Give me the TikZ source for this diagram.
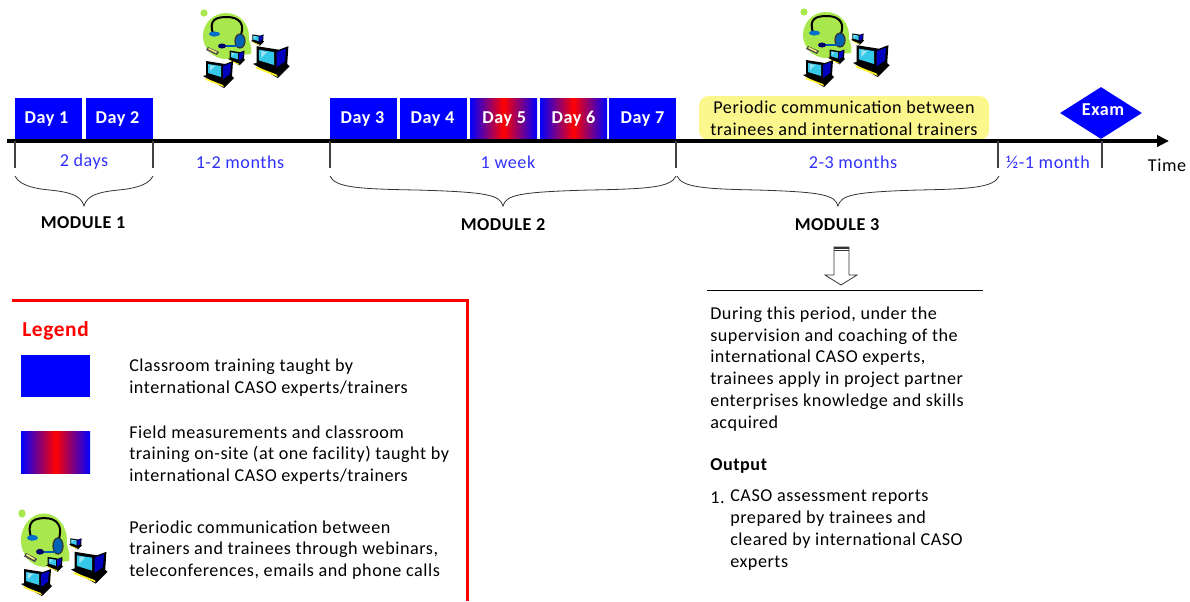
\documentclass[tikz,border=0pt]{standalone}
\usepackage{fontspec}
\setmainfont[LetterSpace=3]{Carlito}
\usetikzlibrary{arrows.meta,shapes.geometric,positioning}
\definecolor{dayBlue}{HTML}{0000FF}
\definecolor{spanBlue}{HTML}{3030FF}
\definecolor{commYellow}{HTML}{FBF78C}
\definecolor{blobGreen}{HTML}{A9E84C}
\definecolor{screenCyan}{HTML}{35C8E8}
\newcommand{\txtfont}{\fontsize{13.6}{16.35}\selectfont}
\tikzset{
	day/.style={fill=dayBlue,text=white,minimum width=67*0.75pt,minimum height=42*0.75pt,inner sep=0,outer sep=0,font=\bfseries\fontsize{13.6}{15}\selectfont},
	dayfield/.style={day,left color=dayBlue,right color=dayBlue,middle color=red},
	span/.style={text=spanBlue,font=\txtfont,inner sep=0},
	tick/.style={draw=black!75,line width=0.9pt},
	modlabel/.style={font=\bfseries\txtfont,inner sep=0},
	plain/.style={font=\txtfont,align=left,anchor=west,inner sep=0},
	terminal/.pic={
		\fill[black] (0,16)--(21,28)--(31,18)--(22,10)--cycle;
		\fill[yellow!85!white] (2,18)--(20,25)--(21,27)--(3,20)--cycle;
		\fill[black] (3,1)--(22,4)--(30,1)--(29,16)--(20,23)--(3,16)--cycle;
		\fill[blue!75!black] (20,6)--(28,3)--(27,14)--(20,19)--cycle;
		\fill[screenCyan] (5,4)--(18,6)--(18,17)--(5,13)--cycle;
		\fill[white,opacity=0.5] (7,5)--(12,6)--(7,11)--cycle;
	},
	helpdesk/.pic={
		\fill[blobGreen] (3,3) circle (3.6);
		\fill[blobGreen] (25,26) circle (23);
		\fill[blobGreen] (30,45) .. controls (38,44) and (44,45) .. (50,44) .. controls (52,38) and (48,30) .. (44,20) -- cycle;
		\draw[black,line width=1.5pt] (13,26) .. controls (6,9) and (16,7) .. (26,7) .. controls (38,7) and (45,14) .. (39,27);
		\fill[blue!45!cyan!80!black] (13.5,24) ellipse (5.5 and 2.5);
		\fill[blue!45!cyan!70!black] (39,31) ellipse (5 and 7);
		\draw[black!80,line width=0.9pt] (39,31) ellipse (5 and 7);
		\draw[blue!50!cyan!70!black,line width=1.4pt,line cap=round] (22,36) -- (36,36);
		\fill[blue!40!black] (21,36) ellipse (4 and 2.5);
		\pic[scale=0.42] at (50,24) {terminal};
		\pic[scale=0.55] at (27,40) {terminal};
		\fill[black!70] (7,37)--(18,42)--(16,45)--(5,40)--cycle;
		\fill[yellow!50!white] (8,38)--(16,42)--(15,43)--(7,39)--cycle;
		\pic at (2,50) {terminal};
		\pic[scale=1.18] at (52,35) {terminal};
	}
}
\begin{document}
\begin{tikzpicture}[x=0.75pt,y=-0.75pt]
	\useasboundingbox (0,0) rectangle (1190,601);
	% days above the line
	\foreach \id/\x/\dx/\lab/\sty in {1/48.5/-3/Day 1/day,2/119.5/-3/Day 2/day,3/363.5/-1.5/Day 3/day,4/433.5/-1.5/Day 4/day,5/503.5/1/Day 5/dayfield,6/573.5/0/Day 6/dayfield,7/642.5/0/Day 7/day}
		\node[\sty] (day\id) at (\x,119) {\kern\dx pt\raisebox{1.5pt}{\lab}};
	\node[fill=commYellow,rounded corners=2.5mm,minimum width=290*0.75pt,minimum height=44*0.75pt,inner sep=0,align=center,font=\txtfont] (comm) at (844,118) {Periodic communication between\\trainees and international trainers};
	\node[diamond,fill=dayBlue,minimum width=82*0.75pt,minimum height=52*0.75pt,inner sep=0,aspect=1.6] (exam) at (1101,113) {};
	\node[text=white,inner sep=0,font=\bfseries\fontsize{13.6}{15}\selectfont] (examlab) at (1103,110) {Exam};
	% time line
	\coordinate (tl0) at (7,141);
	\coordinate (tl1) at (1169,141);
	\draw[line width=2.4pt,-{Triangle[length=9pt,width=8.5pt]}] (tl0) -- (tl1);
	\foreach \id/\x in {a/15,b/153,c/330,d/676,e/998,f/1102}{
		\coordinate (tk\id) at (\x,141);
		\coordinate (te\id) at (\x,168);
		\draw[tick] (tk\id) -- (te\id);
	}
	\node[span] (sp1) at (84,162) {2 days};
	\node[span] (sp2) at (240,162) {1-2 months};
	\node[span] (sp3) at (508,162) {1 week};
	\node[span] (sp4) at (853,162) {2-3 months};
	\node[span] (sp5) at (1048,162) {½-1 month};
	\node[font=\txtfont,inner sep=0] (time) at (1167,165) {Time};
	% module braces
	\foreach \l/\r/\m/\lx/\id/\ly in {15/153/84/83/1/223,330/676/503/503/2/225,677/999/838/837/3/225}{
		\coordinate (bl\id) at (\l,176);
		\coordinate (br\id) at (\r,176);
		\coordinate (bt\id) at (\m,206);
		\draw[black!80,line width=0.6pt] (bl\id) .. controls (\l+5,187) and (\l+25,189) .. ({(\l+\m)/2},190) .. controls (\m-15,192) and (\m-3,195) .. (bt\id) .. controls (\m+3,195) and (\m+15,192) .. ({(\r+\m)/2},190) .. controls (\r-25,189) and (\r-5,187) .. (br\id);
		\node[modlabel] (mod\id) at (\lx,\ly) {MODULE \id};
	}
	% module 3 details
	\draw[black!80,fill=white,line width=0.6pt] (834,247) -- (849,247) -- (849,275) -- (857,275) -- (841,285) -- (825,275) -- (834,275) -- cycle;
	\draw[black!80,line width=0.6pt] (834,250) -- (849,250);
	\fill[black!80] (834,247) rectangle (849,249);
	\coordinate (rl) at (707,290);
	\coordinate (rr) at (983,290);
	\draw[line width=0.75pt] (rl) -- (rr);
	\node[plain] (period) at (710,369) {During this period, under the\\supervision and coaching of the\\international CASO experts,\\trainees apply in project partner\\enterprises knowledge and skills\\acquired};
	\node[plain,font=\bfseries\txtfont] (output) at (710,466) {Output};
	\node[plain] (num) at (710,498) {1.};
	\node[plain] (report) at (730,530) {CASO assessment reports\\prepared by trainees and\\cleared by international CASO\\experts};
	% legend
	\coordinate (lg0) at (12,300.5);
	\coordinate (lg1) at (467.5,300.5);
	\coordinate (lg2) at (467.5,601);
	\draw[red,line width=2.4pt] (lg0) -- (lg1) -- (lg2);
	\node[text=red,font=\bfseries\fontsize{16}{18}\selectfont,anchor=west,inner sep=0] (legend) at (22,331) {Legend};
	\node[day,minimum width=69*0.75pt] (key1) at (55.5,376) {};
	\node[dayfield,minimum width=69*0.75pt] (key2) at (55.5,452) {};
	\node[plain] (keytxt1) at (129,377.5) {Classroom training taught by\\international CASO experts/trainers};
	\node[plain] (keytxt2) at (129,455) {Field measurements and classroom\\training on-site (at one facility) taught by\\international CASO experts/trainers};
	\node[plain] (keytxt3) at (129,550) {Periodic communication between\\trainers and trainees through webinars,\\teleconferences, emails and phone calls};
	% icons
	\pic at (201,10) {helpdesk};
	\pic at (801,9) {helpdesk};
	\pic[yscale=1.16] at (19,510) {helpdesk};
\end{tikzpicture}
\end{document}
